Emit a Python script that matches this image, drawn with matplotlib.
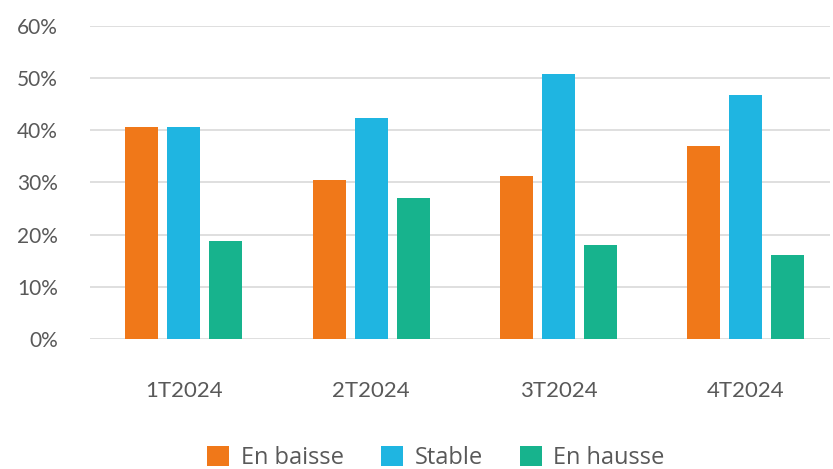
import numpy as np
import matplotlib.pyplot as plt
from matplotlib.ticker import FuncFormatter

categories = ['1T2024', '2T2024', '3T2024', '4T2024']
series_names = ['En baisse', 'Stable', 'En hausse']
en_baisse = [40.6, 30.5, 31.2, 37.0]
stable = [40.6, 42.4, 50.8, 46.8]
en_hausse = [18.8, 27.0, 18.0, 16.1]
colors = ['#F07819', '#1FB5E1', '#17B38D']

plt.rcParams['font.family'] = ['Lato', 'DejaVu Sans']
text_color = '#595959'

fig = plt.figure(figsize=(8.33, 4.69), dpi=100)
ax = fig.add_axes([0.108, 0.2772, 0.888, 0.6674])

x = np.arange(len(categories))
width = 0.176
step = 0.224
for i, (vals, name) in enumerate(zip([en_baisse, stable, en_hausse], series_names)):
    ax.bar(x + (i - 1) * step, vals, width=width, color=colors[i], label=name, zorder=3)

ax.set_xlim(-0.5, 3.447)
ax.set_ylim(0, 60)
ax.set_yticks(range(0, 61, 10))
ax.yaxis.set_major_formatter(FuncFormatter(lambda v, _: '{:d}%'.format(int(v))))
ax.grid(axis='y', color='#D9D9D9', linewidth=1.2, zorder=0)
for s in ax.spines.values():
    s.set_visible(False)
ax.tick_params(axis='both', length=0, colors=text_color, labelsize=15)
ax.tick_params(axis='y', pad=23)
ax.set_xticks(x)
ax.set_xticklabels(categories)
ax.tick_params(axis='x', pad=30, labelsize=16)

leg = ax.legend(loc='upper center', bbox_to_anchor=(0.468, -0.275), ncol=3, frameon=False,
                handlelength=0.9, handleheight=0.9, handletextpad=0.5,
                columnspacing=1.6, prop={'family': ['Open Sans', 'DejaVu Sans'], 'size': 17})
for t in leg.get_texts():
    t.set_color(text_color)

fig.savefig('out.png', dpi=100)
